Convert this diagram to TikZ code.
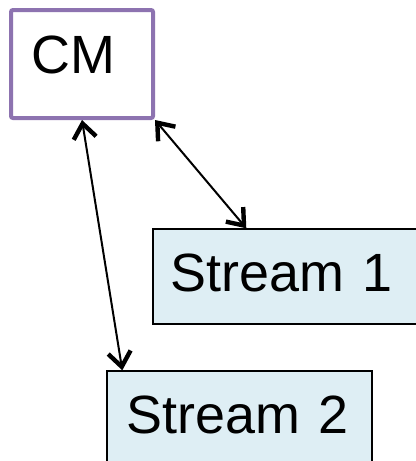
\documentclass[tikz,border=0pt]{standalone}
\usepackage{fontspec}
\setmainfont{Liberation Sans}
\usetikzlibrary{arrows.meta,calc}
\definecolor{cmpurple}{RGB}{141,115,176}
\definecolor{streamfill}{RGB}{222,238,244}
\begin{document}
\begin{tikzpicture}[x=0.75pt,y=-0.75pt,
  lbl/.style={font=\fontsize{40.4}{48}\selectfont, align=left, inner ysep=0pt,
    text height=29.6pt},
  cmbox/.style={lbl, draw=cmpurple, line width=3pt, rounded corners=1.5pt, fill=white,
    minimum width=106.5pt, minimum height=81pt, inner xsep=15.2pt,
    text width=76pt, text depth=15pt, anchor=north west},
  streambox/.style={lbl, draw=black, line width=1.1pt, fill=streamfill,
    minimum width=198.75pt, minimum height=71.25pt, text depth=7.5pt, anchor=north west},
  link/.style={line width=1.5pt, {Straight Barb[length=11pt,width=17pt,line width=3.3pt]}-{Straight Barb[length=11pt,width=17pt,line width=3.3pt]}}
]
\useasboundingbox (0,0) rectangle (415,461);
\node[cmbox] (cm) at (9,8) {CM};
\node[streambox, inner xsep=13.2pt, text width=172pt] (s1) at (152.3,228.3) {Stream 1};
\node[streambox, inner xsep=14.6pt, text width=169pt] (s2) at (106.3,370.3) {Stream 2};
\draw[link] (cm.south east) -- ($(s1.north west)+(94,0)$);
\draw[link] (cm.south) -- ($(s2.north west)+(16,0)$);
\end{tikzpicture}
\end{document}
